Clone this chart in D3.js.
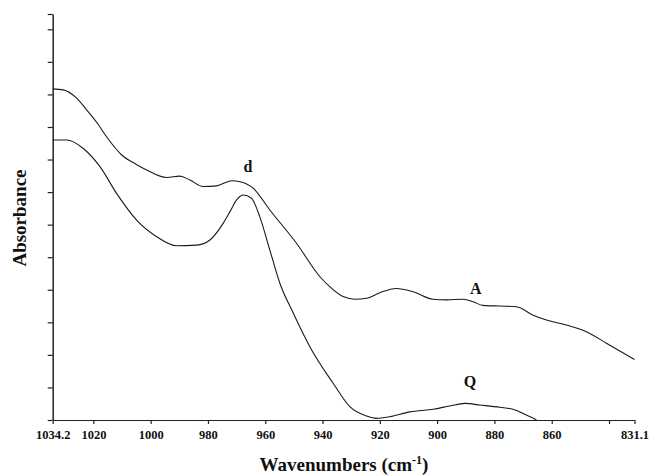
<!DOCTYPE html>
<html>
<head>
<meta charset="utf-8">
<script src="https://cdn.jsdelivr.net/npm/d3@7"></script>
<style>
  html, body { margin: 0; padding: 0; background: #fff; }
  svg { display: block; }
  text { font-family: "Liberation Serif", "Times New Roman", serif; fill: #111; }
</style>
</head>
<body>
<svg id="chart" width="649" height="475"></svg>
<script>
// ---- data ----
const xTickValues = [1034.2, 1020, 1000, 980, 960, 940, 920, 900, 880, 860, 840, 831.1];
const xTickLabels = ["1034.2", "1020", "1000", "980", "960", "940", "920", "900", "880", "860", "", "831.1"];
const yTickValues = [0, 1, 2, 3, 4, 5, 6, 7, 8, 9, 10, 11, 12, 12.47];

const waveA = [1034.2, 1030.5, 1026.0, 1022.3, 1018.5, 1015.4, 1010.1, 1005.0, 1001.4, 994.4, 989.8, 986.3, 981.7, 977.0, 971.7, 968.8, 964.2, 958.4, 949.1, 940.9, 937.4, 932.8, 928.7, 924.6, 920.0, 914.2, 908.4, 901.4, 896.7, 890.9, 887.4, 884.0, 878.1, 872.3, 866.5, 861.8, 854.9, 847.9, 840.9, 831.1];
const absA  = [10.17, 10.14, 9.90, 9.52, 9.10, 8.70, 8.14, 7.85, 7.68, 7.45, 7.49, 7.37, 7.17, 7.19, 7.35, 7.32, 7.12, 6.45, 5.43, 4.40, 4.09, 3.79, 3.71, 3.74, 3.91, 4.04, 3.94, 3.71, 3.69, 3.71, 3.63, 3.52, 3.50, 3.48, 3.22, 3.07, 2.92, 2.71, 2.36, 1.86];

const waveQ = [1034.2, 1029.3, 1023.5, 1017.7, 1011.9, 1004.9, 997.9, 990.9, 984.0, 979.3, 974.7, 972.3, 970.0, 967.7, 964.8, 961.9, 958.4, 954.9, 950.2, 943.8, 936.3, 930.5, 924.6, 921.1, 916.5, 909.5, 901.4, 895.6, 890.3, 885.1, 878.1, 873.5, 868.8, 865.3];
const absQ  = [8.60, 8.60, 8.34, 7.78, 6.96, 6.14, 5.63, 5.35, 5.37, 5.53, 6.04, 6.40, 6.76, 6.91, 6.81, 6.24, 5.22, 4.20, 3.28, 2.15, 1.13, 0.41, 0.12, 0.05, 0.10, 0.25, 0.33, 0.43, 0.51, 0.46, 0.39, 0.33, 0.15, 0.0];

const curveLabels = [
  { text: "d", w: 966.0, a: 7.63 },
  { text: "A", w: 886.5, a: 3.87 },
  { text: "Q", w: 888.5, a: 1.01 }
];

// ---- chart ----
const svg = d3.select("#chart");
svg.append("rect").attr("width", 649).attr("height", 475).attr("fill", "#fff");

const x = d3.scaleLinear().domain([1034.2, 831.1]).range([52.7, 634.5]);
const y = d3.scaleLinear().domain([0, 12.47]).range([420, 14]);

const line = d3.line()
  .x(d => x(d[0]))
  .y(d => y(d[1]))
  .curve(d3.curveMonotoneX);

const seriesA = waveA.map((w, i) => [w, absA[i]]);
const seriesQ = waveQ.map((w, i) => [w, absQ[i]]);

svg.append("path").datum(seriesA)
  .attr("fill", "none").attr("stroke", "#1a1a1a").attr("stroke-width", 1.1)
  .attr("d", line);
svg.append("path").datum(seriesQ)
  .attr("fill", "none").attr("stroke", "#1a1a1a").attr("stroke-width", 1.1)
  .attr("d", line);

// x axis
const xAxis = d3.axisBottom(x)
  .tickValues(xTickValues)
  .tickFormat((d, i) => xTickLabels[i])
  .tickSizeInner(4).tickSizeOuter(0).tickPadding(6);
const gx = svg.append("g").attr("transform", "translate(0,420)").call(xAxis);
gx.select(".domain").attr("stroke", "#222").attr("stroke-width", 1.2);
gx.selectAll(".tick line").attr("stroke", "#222").attr("stroke-width", 1.2);
gx.selectAll(".tick text")
  .attr("font-family", "'Liberation Serif', 'Times New Roman', serif")
  .attr("font-size", 12.5).attr("font-weight", "bold").attr("fill", "#111");

// y axis
const yAxis = d3.axisLeft(y)
  .tickValues(yTickValues)
  .tickFormat("")
  .tickSizeInner(5).tickSizeOuter(0);
const gy = svg.append("g").attr("transform", "translate(52.7,0)").call(yAxis);
gy.select(".domain").attr("stroke", "#222").attr("stroke-width", 1.5);
gy.selectAll(".tick line").attr("stroke", "#222").attr("stroke-width", 1.2);

// axis titles
const xt = svg.append("text")
  .attr("x", 344).attr("y", 471)
  .attr("text-anchor", "middle")
  .attr("font-size", 19).attr("font-weight", "bold");
xt.append("tspan").text("Wavenumbers (cm");
xt.append("tspan").attr("dy", -7).attr("font-size", 12).text("-1");
xt.append("tspan").attr("dy", 7).text(")");

svg.append("text")
  .attr("transform", "translate(26,218) rotate(-90)")
  .attr("text-anchor", "middle")
  .attr("font-size", 19).attr("font-weight", "bold")
  .text("Absorbance");

// curve labels
svg.selectAll("text.clabel").data(curveLabels).enter().append("text")
  .attr("class", "clabel")
  .attr("x", d => x(d.w)).attr("y", d => y(d.a))
  .attr("text-anchor", "middle")
  .attr("font-size", 16).attr("font-weight", "bold")
  .text(d => d.text);
</script>
</body>
</html>
